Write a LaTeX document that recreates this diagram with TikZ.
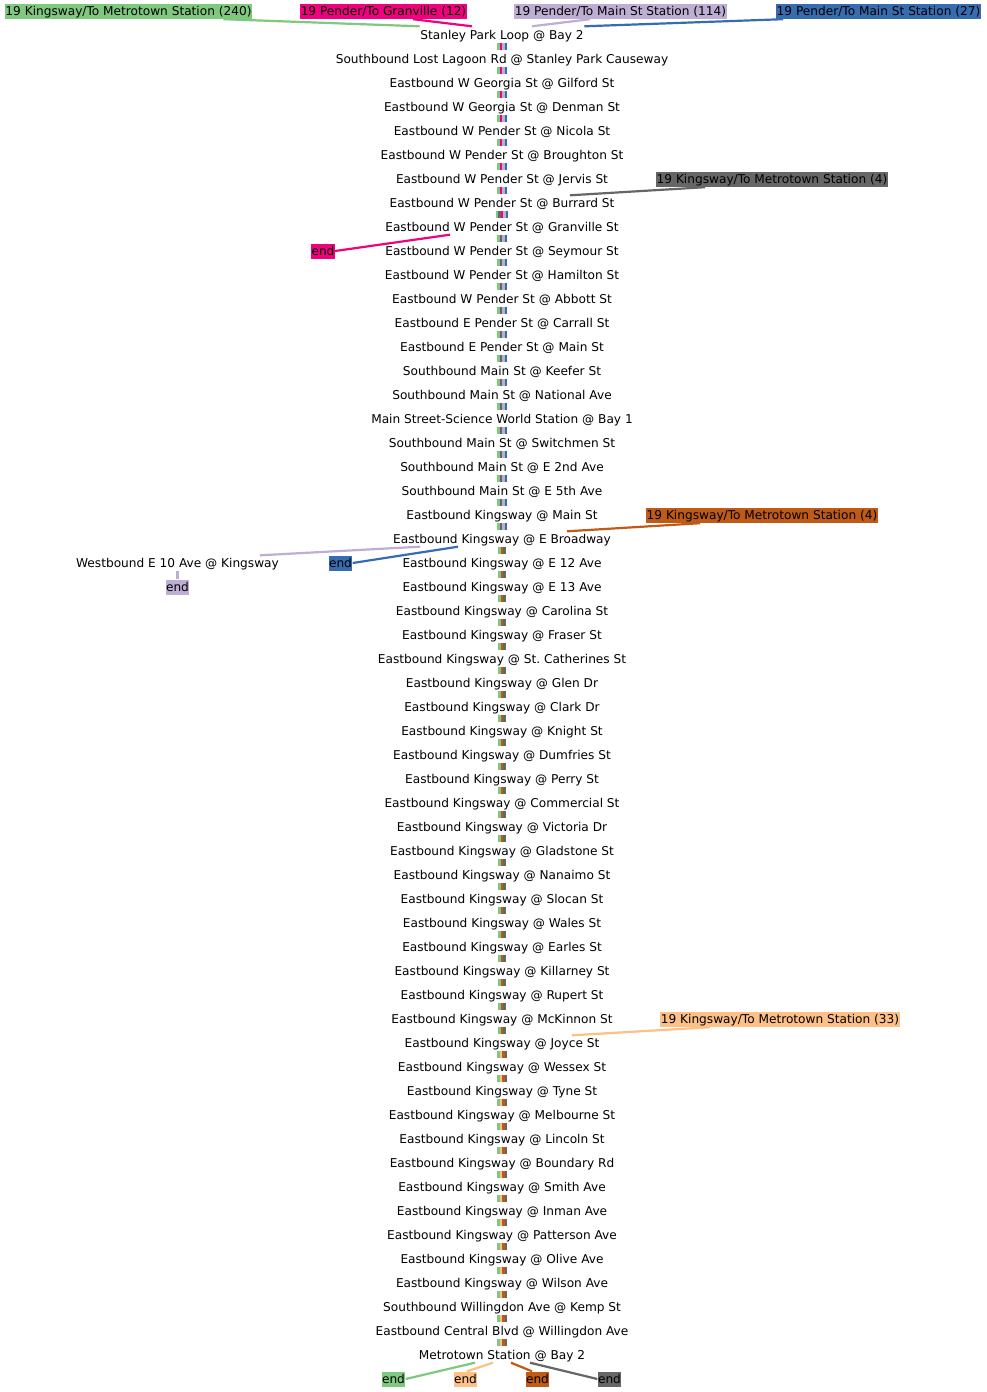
\documentclass[tikz,border=0pt]{standalone}
\usepackage{fontspec}
\setmainfont{DejaVu Sans}
\usetikzlibrary{calc}
\definecolor{cgreen}{HTML}{7FC97F}
\definecolor{cpink}{HTML}{F0027F}
\definecolor{clav}{HTML}{BEAED4}
\definecolor{cblue}{HTML}{386CB0}
\definecolor{cgray}{HTML}{666666}
\definecolor{cbrown}{HTML}{BF5B17}
\definecolor{corange}{HTML}{FDC086}
\frenchspacing
\begin{document}
\begin{tikzpicture}[x=1pt,y=-1pt,font=\fontsize{12.15}{14}\selectfont,
  stop/.style={inner sep=0.5pt,text height=11pt,text depth=3pt},
  tag/.style={stop,fill=#1},
  bar/.style={line width=2.5pt},
  link/.style={line width=2.2pt}]
\useasboundingbox[fill=white] (0,0) rectangle (986,1392);
% stops
\foreach \n [count=\i from 0] in {Stanley Park Loop @ Bay 2,
 Southbound Lost Lagoon Rd @ Stanley Park Causeway,
 Eastbound W Georgia St @ Gilford St,
 Eastbound W Georgia St @ Denman St,
 Eastbound W Pender St @ Nicola St,
 Eastbound W Pender St @ Broughton St,
 Eastbound W Pender St @ Jervis St,
 Eastbound W Pender St @ Burrard St,
 Eastbound W Pender St @ Granville St,
 Eastbound W Pender St @ Seymour St,
 Eastbound W Pender St @ Hamilton St,
 Eastbound W Pender St @ Abbott St,
 Eastbound E Pender St @ Carrall St,
 Eastbound E Pender St @ Main St,
 Southbound Main St @ Keefer St,
 Southbound Main St @ National Ave,
 Main Street-Science World Station @ Bay 1,
 Southbound Main St @ Switchmen St,
 Southbound Main St @ E 2nd Ave,
 Southbound Main St @ E 5th Ave,
 Eastbound Kingsway @ Main St,
 Eastbound Kingsway @ E Broadway,
 Eastbound Kingsway @ E 12 Ave,
 Eastbound Kingsway @ E 13 Ave,
 Eastbound Kingsway @ Carolina St,
 Eastbound Kingsway @ Fraser St,
 Eastbound Kingsway @ St. Catherines St,
 Eastbound Kingsway @ Glen Dr,
 Eastbound Kingsway @ Clark Dr,
 Eastbound Kingsway @ Knight St,
 Eastbound Kingsway @ Dumfries St,
 Eastbound Kingsway @ Perry St,
 Eastbound Kingsway @ Commercial St,
 Eastbound Kingsway @ Victoria Dr,
 Eastbound Kingsway @ Gladstone St,
 Eastbound Kingsway @ Nanaimo St,
 Eastbound Kingsway @ Slocan St,
 Eastbound Kingsway @ Wales St,
 Eastbound Kingsway @ Earles St,
 Eastbound Kingsway @ Killarney St,
 Eastbound Kingsway @ Rupert St,
 Eastbound Kingsway @ McKinnon St,
 Eastbound Kingsway @ Joyce St,
 Eastbound Kingsway @ Wessex St,
 Eastbound Kingsway @ Tyne St,
 Eastbound Kingsway @ Melbourne St,
 Eastbound Kingsway @ Lincoln St,
 Eastbound Kingsway @ Boundary Rd,
 Eastbound Kingsway @ Smith Ave,
 Eastbound Kingsway @ Inman Ave,
 Eastbound Kingsway @ Patterson Ave,
 Eastbound Kingsway @ Olive Ave,
 Eastbound Kingsway @ Wilson Ave,
 Southbound Willingdon Ave @ Kemp St,
 Eastbound Central Blvd @ Willingdon Ave,
 Metrotown Station @ Bay 2}
 \node[stop] (s\i) at (502,{35+24*\i}) {\n};
% route bars between stops
\foreach \a/\b/\m/\cols in {0/6/4/{cgreen,cpink,clav,cblue},
  7/7/5/{cgreen,cgray,cpink,clav,cblue},
  8/20/4/{cgreen,cgray,clav,cblue},
  21/41/3/{cgreen,cbrown,cgray},
  42/54/4/{cgreen,corange,cbrown,cgray}} {
  \foreach \c [count=\k] in \cols {
    \pgfmathsetmacro\dx{(\k-(\m+1)/2)*2.5}
    \foreach \i in {\a,...,\b} {
      \pgfmathtruncatemacro\j{\i+1}
      \draw[bar,\c] ([xshift=\dx pt,yshift=-0.5pt]s\i.south) -- ([xshift=\dx pt,yshift=1pt]s\j.north);
    }
  }
}
% labels
\node[tag=cgreen] (t240) at (128.5,11.5) {19 Kingsway/To Metrotown Station (240)};
\node[tag=cpink] (t12) at (383.5,11.5) {19 Pender/To Granville (12)};
\node[tag=clav] (t114) at (620.5,11.5) {19 Pender/To Main St Station (114)};
\node[tag=cblue] (t27) at (878.5,11.5) {19 Pender/To Main St Station (27)};
\node[tag=cgray] (t4g) at (772,179.5) {19 Kingsway/To Metrotown Station (4)};
\node[tag=cpink] (epink) at (323,251) {end};
\node[tag=cbrown] (t4b) at (762,515.5) {19 Kingsway/To Metrotown Station (4)};
\node[tag=cblue] (eblue) at (340.5,563) {end};
\node[stop] (w10) at (177.5,563) {Westbound E 10 Ave @ Kingsway};
\node[tag=clav] (elav) at (177.5,587) {end};
\node[tag=corange] (t33) at (780,1019.5) {19 Kingsway/To Metrotown Station (33)};
\node[tag=cgreen] (eg) at (393.5,1379) {end};
\node[tag=corange] (eo) at (465.5,1379) {end};
\node[tag=cbrown] (eb) at (537.5,1379) {end};
\node[tag=cgray] (egr) at (609.5,1379) {end};
% connectors
\draw[link,cgreen] ([xshift=95pt]t240.south) -- ([yshift=1pt]s0.north west);
\draw[link,cpink] ([xshift=29.5pt]t12.south) -- ([xshift=-30pt,yshift=1pt]s0.north);
\draw[link,clav] ([xshift=-30.5pt]t114.south) -- ([xshift=30pt,yshift=1pt]s0.north);
\draw[link,cblue] ([xshift=-95.5pt]t27.south) -- ([yshift=1pt]s0.north east);
\draw[link,cgray] ([xshift=-67pt]t4g.south) -- ([xshift=68pt]s7.north);
\draw[link,cpink] (epink.east) -- ([xshift=-52pt]s8.south);
\draw[link,cbrown] ([xshift=-62pt]t4b.south) -- ([xshift=65pt]s21.north);
\draw[link,cblue] (eblue.east) -- ([xshift=-44pt]s21.south);
\draw[link,clav] ([xshift=82.5pt]w10.north) -- ([xshift=-82pt]s21.south);
\draw[link,clav] (w10.south) -- (elav.north);
\draw[link,corange] ([xshift=-70pt]t33.south) -- ([xshift=70pt]s42.north);
\draw[link,cgreen] ([xshift=-27pt]s55.south) -- (eg.east);
\draw[link,corange] ([xshift=-9pt]s55.south) -- ([xshift=1.5pt]eo.north);
\draw[link,cbrown] ([xshift=9pt]s55.south) -- ([xshift=-5.5pt]eb.north);
\draw[link,cgray] ([xshift=28pt]s55.south) -- (egr.west);
\end{tikzpicture}
\end{document}
